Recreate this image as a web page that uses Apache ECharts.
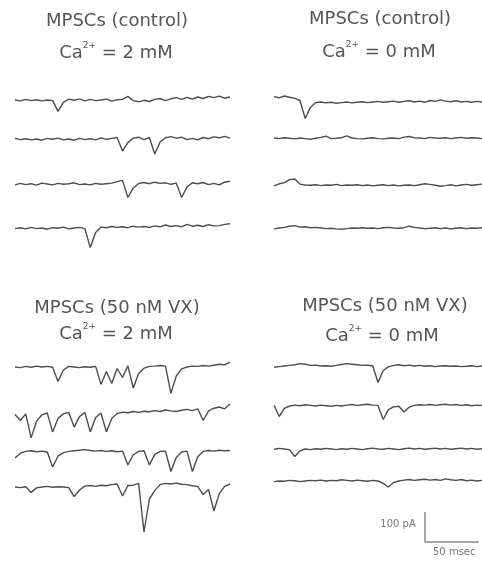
<!DOCTYPE html>
<html>
<head>
<meta charset="utf-8">
<script src="https://cdn.jsdelivr.net/npm/echarts@6/dist/echarts.min.js"></script>
<style>
html, body { margin: 0; background: #fff; }
#traces { width: 482px; height: 561px; }
</style>
</head>
<body>
<div id="traces"></div>
<script>
// sample times of every sweep (ms)
const timeMs = [0, 5, 10, 15, 20, 25, 30, 35, 40, 45,
  50, 55, 60, 65, 70, 75, 80, 85, 90, 95,
  100, 105, 110, 115, 120, 125, 130, 135, 140, 145,
  150, 155, 160, 165, 170, 175, 180, 185, 190, 195,
  200];

// current (pA) read off each sweep, downward deflections = mPSCs
// control, Ca 2 mM
const ctrlCa2Sweep1 = [0, -3, 2, -2, 1, -3, 0, -2, -38, -8, 3, -1, 4, -3, 2, -2, 0, 3, -4, 1, 2, 12, -2, -6, -1, -5, 2, 5, -2, 4, 8, 2, 9, 3, 10, 5, 12, 8, 13, 6, 10];
const ctrlCa2Sweep2 = [2, -2, 1, -3, 0, -4, 2, -1, 3, -3, 0, -4, 2, -2, 1, -3, 4, -1, 2, 5, -40, -12, 3, 6, -2, 5, -50, -10, 4, 8, 3, 6, -2, 2, -3, 5, 1, 7, 4, 9, 3];
const ctrlCa2Sweep3 = [-3, 2, -2, 1, -4, 3, 0, -3, 2, -1, 1, 4, -2, 0, -3, 2, -1, 1, 3, 8, 12, -45, -14, 2, 5, 1, 6, 2, 4, -1, 3, -45, -10, 4, 1, 5, -2, 2, -3, 6, 9];
const ctrlCa2Sweep4 = [-2, 1, -3, 2, -2, 0, -4, 1, -1, 3, -3, 0, 2, -2, -65, -15, 3, 1, 5, 2, 4, 1, 6, 3, 5, 2, 7, 4, 10, 5, 8, 4, 12, 6, 9, 5, 11, 7, 8, 12, 14];
// control, Ca 0 mM
const ctrlCa0Sweep1 = [18, 14, 20, 16, 12, 5, -55, -18, -2, 0, -3, -1, -4, -2, 0, -3, -1, 1, -2, 0, 2, -1, 1, 3, -1, 2, 4, 0, 3, -1, 5, 2, 7, 3, 1, 4, 0, 2, -1, 2, 0];
const ctrlCa0Sweep2 = [0, -2, 1, -1, -3, 0, -2, -4, -1, 2, 6, -2, -1, 1, 7, 0, -2, -3, -1, 1, -2, -3, -1, 0, -2, 3, 5, 1, 0, -2, 2, 0, -1, 1, -2, 0, 2, -1, 1, 0, -2];
const ctrlCa0Sweep3 = [-3, 4, 8, 18, 20, 3, 0, -1, 1, -2, 0, -1, 2, -2, 0, -1, 1, -2, 0, -3, -1, 1, -2, 0, -3, -1, 0, -2, 1, 4, 2, -1, -4, -2, 1, -3, 0, 2, -1, 1, 3];
const ctrlCa0Sweep4 = [-3, 0, 2, 6, 8, 3, 4, 1, 2, 0, -2, -1, -3, -4, -2, 0, -1, 1, -1, 0, -2, 1, 2, 0, -1, 1, 6, 2, 0, -2, -1, 1, -2, 0, -3, -1, 1, -2, 0, -1, 1];
// 50 nM VX, Ca 2 mM
const vxCa2Sweep1 = [0, -2, 2, -1, 3, 0, 2, -1, -48, -10, 2, 0, -2, 1, -1, 2, -58, -15, -55, -5, -35, 4, -70, -22, -4, 2, 3, 5, 3, -88, -30, -6, 0, 3, 2, 5, 3, 6, 9, 7, 16];
const vxCa2Sweep2 = [-5, -25, -3, -83, -28, -6, 0, -63, -18, -3, 2, -47, -12, 2, -63, -15, 0, -63, -18, -2, 3, 1, 5, 2, 6, 4, 8, 5, 10, 7, 5, 9, 12, 8, 14, -25, 6, 16, 20, 14, 30];
const vxCa2Sweep3 = [-20, -4, 2, 4, 1, 3, 0, -50, -14, -2, 2, 4, 6, 8, 5, 3, 5, 2, 4, 1, 3, -43, -10, 2, 4, -43, -8, 2, 3, -65, -18, 0, 3, -65, -16, 2, 5, 3, 6, 4, 5];
const vxCa2Sweep4 = [0, -2, 1, -18, -3, 0, 2, -1, 1, 0, -2, -32, -10, 3, 5, 2, 6, 4, 8, 10, -30, 5, 6, 12, -150, -40, -12, 8, 12, 10, 13, 9, 8, 4, 2, -25, -8, -80, -22, 2, 10];
// 50 nM VX, Ca 0 mM
const vxCa0Sweep1 = [-4, -2, 0, 2, 4, 8, 6, 2, 3, 0, 1, -1, 2, 5, 8, 6, 4, 2, 3, 0, -55, -15, -3, 2, 4, 1, 3, 0, 2, -1, 1, -2, 0, 1, -1, 0, -2, -1, 1, -2, 0];
const vxCa0Sweep2 = [2, -35, -8, 0, 3, 1, 4, 2, 0, 3, 1, -1, 2, 0, 3, 5, 2, 4, 6, 3, 2, -45, -12, -3, -1, -20, -4, 2, 4, 3, 5, 2, 4, 6, 3, 5, 2, 4, 1, 3, 2];
const vxCa0Sweep3 = [-1, 2, 0, -3, -25, -6, 0, -2, 1, -1, 2, 0, -2, 1, -1, 2, 0, -2, 1, 3, 0, -1, 2, 0, -2, 1, 3, 0, 2, -1, 1, 3, 0, 2, -1, 1, 3, 0, 2, -1, 1];
const vxCa0Sweep4 = [-2, 0, -1, 2, 1, -2, 0, 2, 1, 3, 0, 2, 1, 4, 2, 0, 3, 1, -1, 2, 0, -8, -20, -5, 0, 3, 5, 2, 4, 6, 3, 5, 2, 7, 4, 2, 5, 1, 3, 0, 2];

// text
const panelTitles = ['MPSCs (control)', 'MPSCs (control)', 'MPSCs (50 nM VX)', 'MPSCs (50 nM VX)'];
const calciumLabels = ['Ca{sup|2+}{main| = 2 mM}', 'Ca{sup|2+}{main| = 0 mM}', 'Ca{sup|2+}{main| = 2 mM}', 'Ca{sup|2+}{main| = 0 mM}'];
// scale bar: 100 pA, 50 msec
const scaleBarPa = [100];
const scaleBarMs = [50];
const scaleBarLabels = ['100 pA', '50 msec'];

// layout
const PX_PER_MS = 1.075;
const PX_PER_PA = 0.3;
const Y_MIN = -160, Y_MAX = 40;
const sweepWidth = 200 * PX_PER_MS;
const sweepHeight = (Y_MAX - Y_MIN) * PX_PER_PA;
const zeroOffset = Y_MAX * PX_PER_PA;

// [sweep, left, baseline y]
const sweeps = [
  [ctrlCa2Sweep1, 15, 100], [ctrlCa2Sweep2, 15, 139], [ctrlCa2Sweep3, 15, 184], [ctrlCa2Sweep4, 15, 228],
  [ctrlCa0Sweep1, 274, 102], [ctrlCa0Sweep2, 274, 138], [ctrlCa0Sweep3, 274, 185], [ctrlCa0Sweep4, 274, 228],
  [vxCa2Sweep1, 15, 367], [vxCa2Sweep2, 15, 413], [vxCa2Sweep3, 15, 452], [vxCa2Sweep4, 15, 487],
  [vxCa0Sweep1, 274, 366], [vxCa0Sweep2, 274, 406], [vxCa0Sweep3, 274, 449], [vxCa0Sweep4, 274, 481]
];

const grid = [], xAxis = [], yAxis = [], series = [];
sweeps.forEach(function (s, i) {
  grid.push({ left: s[1], top: s[2] - zeroOffset, width: sweepWidth, height: sweepHeight });
  xAxis.push({ type: 'value', gridIndex: i, min: 0, max: 200, show: false });
  yAxis.push({ type: 'value', gridIndex: i, min: Y_MIN, max: Y_MAX, show: false });
  series.push({
    type: 'line',
    xAxisIndex: i,
    yAxisIndex: i,
    data: timeMs.map(function (t, k) { return [t, s[0][k]]; }),
    showSymbol: false,
    lineStyle: { color: '#4d4d4d', width: 1.4 }
  });
});

// scale bar drawn through its own axes
const sb = sweeps.length;
grid.push({ left: 425, top: 512, width: scaleBarMs[0] * PX_PER_MS, height: scaleBarPa[0] * PX_PER_PA });
xAxis.push({ type: 'value', gridIndex: sb, min: 0, max: scaleBarMs[0], show: false });
yAxis.push({ type: 'value', gridIndex: sb, min: 0, max: scaleBarPa[0], show: false });
series.push({
  type: 'line',
  xAxisIndex: sb,
  yAxisIndex: sb,
  data: [[0, scaleBarPa[0]], [0, 0], [scaleBarMs[0], 0]],
  showSymbol: false,
  clip: false,
  lineStyle: { color: '#8a8a8a', width: 1.5 }
});

const titleFont = { fontFamily: 'DejaVu Sans', fontSize: 18, fontWeight: 'normal', color: '#555', lineHeight: 20 };
const supRich = {
  main: { fontFamily: 'DejaVu Sans', fontSize: 18, fontWeight: 'normal', color: '#555', lineHeight: 24 },
  sup: { fontFamily: 'DejaVu Sans', fontSize: 9, fontWeight: 'normal', color: '#555', lineHeight: 2, verticalAlign: 'top' }
};
const titlePos = [[117, 11, 116, 41], [380, 9, 379, 40], [117, 298, 116, 322], [385, 296, 382, 324]];

const title = [];
panelTitles.forEach(function (t, i) {
  title.push({ text: t, left: titlePos[i][0], top: titlePos[i][1], textAlign: 'center', padding: 0, textStyle: titleFont });
  title.push({
    text: calciumLabels[i],
    left: titlePos[i][2], top: titlePos[i][3], textAlign: 'center', padding: 0,
    textStyle: { fontFamily: 'DejaVu Sans', fontSize: 18, fontWeight: 'normal', color: '#555', lineHeight: 24, rich: supRich }
  });
});
title.push({ text: scaleBarLabels[0], left: 398, top: 519, textAlign: 'center', padding: 0,
  textStyle: { fontFamily: 'DejaVu Sans', fontSize: 10, fontWeight: 'normal', color: '#777' } });
title.push({ text: scaleBarLabels[1], left: 433, top: 547, padding: 0,
  textStyle: { fontFamily: 'DejaVu Sans', fontSize: 10, fontWeight: 'normal', color: '#777' } });

const chart = echarts.init(document.getElementById('traces'));
chart.setOption({
  animation: false,
  backgroundColor: '#fff',
  title: title,
  grid: grid,
  xAxis: xAxis,
  yAxis: yAxis,
  series: series
});
window.addEventListener('resize', function () { chart.resize(); });
</script>
</body>
</html>
